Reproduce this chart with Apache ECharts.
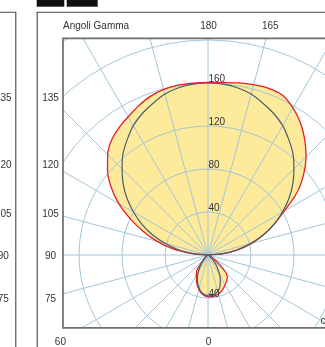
<!DOCTYPE html>
<html><head><meta charset="utf-8">
<script src="https://cdn.jsdelivr.net/npm/echarts@6/dist/echarts.min.js"></script>
<style>html,body{margin:0;padding:0;background:#fff;overflow:hidden}#c{width:325px;height:347px}</style>
</head><body><div id="c"></div>
<script>
// Gamma angles (degrees, 0 = down, 180 = up)
const gammas = [0,5,10,15,20,25,30,35,40,45,50,55,60,65,70,75,80,85,90,95,100,105,110,115,120,125,130,135,140,145,150,155,160,165,170,175,180];
// Intensities (cd/klm)
const redLeft   = [39,38,36,33,29.5,25.5,21.5,18.5,9.5,5,2.5,1.2,0.5,0.2,0.1,0,0,0,0, 14,33,49,64,80,96,110,122,132,139.5,144.5,148.5,153,157,159.5,160.5,160.5,160.5];
const redRight  = [39,39,38.5,37.5,36,34,32,30,28,24,15,8,4,2,1,0.5,0.2,0,0, 14,28,42,55,68,82,101,116,129,140,150,158,164,165,164,162.5,161,160.5];
const darkLeft  = [38,37,35,32,28,23.5,18,12.5,8,5,3,1.5,0.7,0.3,0,0,0,0,0, 14,28,41,55,68,80,92,103,113,123,131,139,145,150,155,158,159.5,160];
const darkRight = [38,38,37,35,32,27,22,16,11,7,4,2,1,0.5,0.2,0,0,0,0, 14,28,41,55,68,80,92,103,113,123,131,139,145,150,155,158,159.5,160];
// Tick labels
const radiusLabelsUp = [40,80,120,160,200];
const radiusLabelsDown = [40];
const angleLabelValues = [180,165,135,120,105,90,75,60,0];
const angleLabelHalf   = [0,1,-1,-1,-1,-1,-1,-1,0];   // -1 left half, +1 right half
const neighbourLabels  = [135,120,105,90,75];
const titleText = 'Angoli Gamma';
const unitText = 'cd/klm';

function buildLoop(left, right) {
  const pts = [];
  for (let i = 0; i < gammas.length; i++) pts.push([left[i], gammas[i]]);
  for (let i = gammas.length - 1; i >= 0; i--) pts.push([right[i], 360 - gammas[i]]);
  return pts;
}
const redData = buildLoop(redLeft, redRight);
const darkData = buildLoop(darkLeft, darkRight);

const FONT = '10px "Liberation Sans", Arial, sans-serif';
const TXT = '#333';
const GRID = '#a3c6d8';

const chart = echarts.init(document.getElementById('c'), null, {renderer: 'canvas'});
chart.setOption({
  animation: false,
  polar: { center: [208, 255], radius: [0, 430] },
  angleAxis: {
    type: 'value', min: 0, max: 360, interval: 15, startAngle: 270, clockwise: true,
    axisLine: {show: false}, axisTick: {show: false}, axisLabel: {show: false},
    splitLine: {show: true, lineStyle: {color: GRID, width: 1}}, z: 3
  },
  radiusAxis: {
    type: 'value', min: 0, max: 400, interval: 40,
    axisLine: {show: false}, axisTick: {show: false}, axisLabel: {show: false},
    splitLine: {show: true, lineStyle: {color: GRID, width: 1}}, z: 3
  },
  series: [
    { type: 'line', coordinateSystem: 'polar', data: redData, symbol: 'none', smooth: 0.3,
      lineStyle: {width: 0, opacity: 0}, areaStyle: {color: '#fdea9b', opacity: 1}, z: 1, silent: true },
    { type: 'line', coordinateSystem: 'polar', data: redData, symbol: 'none', smooth: 0.3,
      lineStyle: {color: '#e3202a', width: 1.3}, z: 5, silent: true },
    { type: 'line', coordinateSystem: 'polar', data: darkData, symbol: 'none', smooth: 0.3,
      lineStyle: {color: '#4d5c6b', width: 1.2}, z: 6, silent: true }
  ]
});

// label rectangle around the plot (distances from label centre point)
const LC = [208.5, 256.5], LL = 158, LT = 230.5, LB = 85.5, LR = 158;
function angleLabelPos(g, half) {
  const r = g * Math.PI / 180;
  const dx = (half === 0 ? 0 : half) * Math.sin(r), dy = Math.cos(r);
  let t = Infinity;
  if (dx < -1e-9) t = Math.min(t, LL / -dx);
  if (dx > 1e-9) t = Math.min(t, LR / dx);
  if (dy < -1e-9) t = Math.min(t, LT / -dy);
  if (dy > 1e-9) t = Math.min(t, LB / dy);
  return [LC[0] + t * dx, LC[1] + t * dy];
}

const els = [];
// radius labels (clipped by the white covers)
radiusLabelsUp.forEach(v => {
  const p = chart.convertToPixel({seriesIndex: 0}, [v, 180]);
  els.push({type: 'text', x: p[0] + 0.5, y: p[1] - 4, z: 8, silent: true,
    style: {text: String(v), font: FONT, fill: TXT, align: 'left', verticalAlign: 'middle'}});
});
radiusLabelsDown.forEach(v => {
  const p = chart.convertToPixel({seriesIndex: 0}, [v, 0]);
  els.push({type: 'text', x: p[0] + 0.5, y: p[1] - 4, z: 8, silent: true,
    style: {text: String(v), font: FONT, fill: TXT, align: 'left', verticalAlign: 'middle'}});
});
// white covers outside the inner frame
els.push({type: 'rect', z: 10, silent: true, shape: {x: 0, y: 0, width: 325, height: 38}, style: {fill: '#fff'}});
els.push({type: 'rect', z: 10, silent: true, shape: {x: 0, y: 0, width: 62.5, height: 347}, style: {fill: '#fff'}});
els.push({type: 'rect', z: 10, silent: true, shape: {x: 0, y: 328, width: 325, height: 19}, style: {fill: '#fff'}});
// frames
els.push({type: 'rect', z: 11, silent: true, shape: {x: 63, y: 38.3, width: 300, height: 289.5}, style: {fill: 'none', stroke: '#6e6e6e', lineWidth: 1.7}});
els.push({type: 'rect', z: 11, silent: true, shape: {x: 37.2, y: 12.2, width: 400, height: 400}, style: {fill: 'none', stroke: '#444', lineWidth: 1.1}});
els.push({type: 'rect', z: 11, silent: true, shape: {x: -100, y: 12.2, width: 115.8, height: 400}, style: {fill: 'none', stroke: '#444', lineWidth: 1.1}});
// black tabs on top
els.push({type: 'rect', z: 11, silent: true, shape: {x: 36.7, y: 0, width: 27.6, height: 6.7}, style: {fill: '#111'}});
els.push({type: 'rect', z: 11, silent: true, shape: {x: 66.7, y: 0, width: 31, height: 6.7}, style: {fill: '#111'}});
// angle labels
angleLabelValues.forEach((g, i) => {
  const p = angleLabelPos(g, angleLabelHalf[i]);
  els.push({type: 'text', x: p[0], y: p[1], z: 12, silent: true,
    style: {text: String(g), font: FONT, fill: TXT, align: 'center', verticalAlign: 'middle'}});
});
// right-hand labels of the neighbouring panel (mirrored)
const neighbourShift = -363.2;
neighbourLabels.forEach(g => {
  const p = angleLabelPos(g, -1);
  els.push({type: 'text', x: LC[0] + LR + neighbourShift, y: p[1], z: 12, silent: true,
    style: {text: String(g), font: FONT, fill: TXT, align: 'center', verticalAlign: 'middle'}});
});
els.push({type: 'text', x: 63, y: 26.3, z: 12, silent: true,
  style: {text: titleText, font: FONT, fill: TXT, align: 'left', verticalAlign: 'middle'}});
els.push({type: 'text', x: 320.5, y: 321.5, z: 12, silent: true,
  style: {text: unitText, font: FONT, fill: TXT, align: 'left', verticalAlign: 'middle'}});

chart.setOption({graphic: {elements: els}});
</script>
</body></html>
